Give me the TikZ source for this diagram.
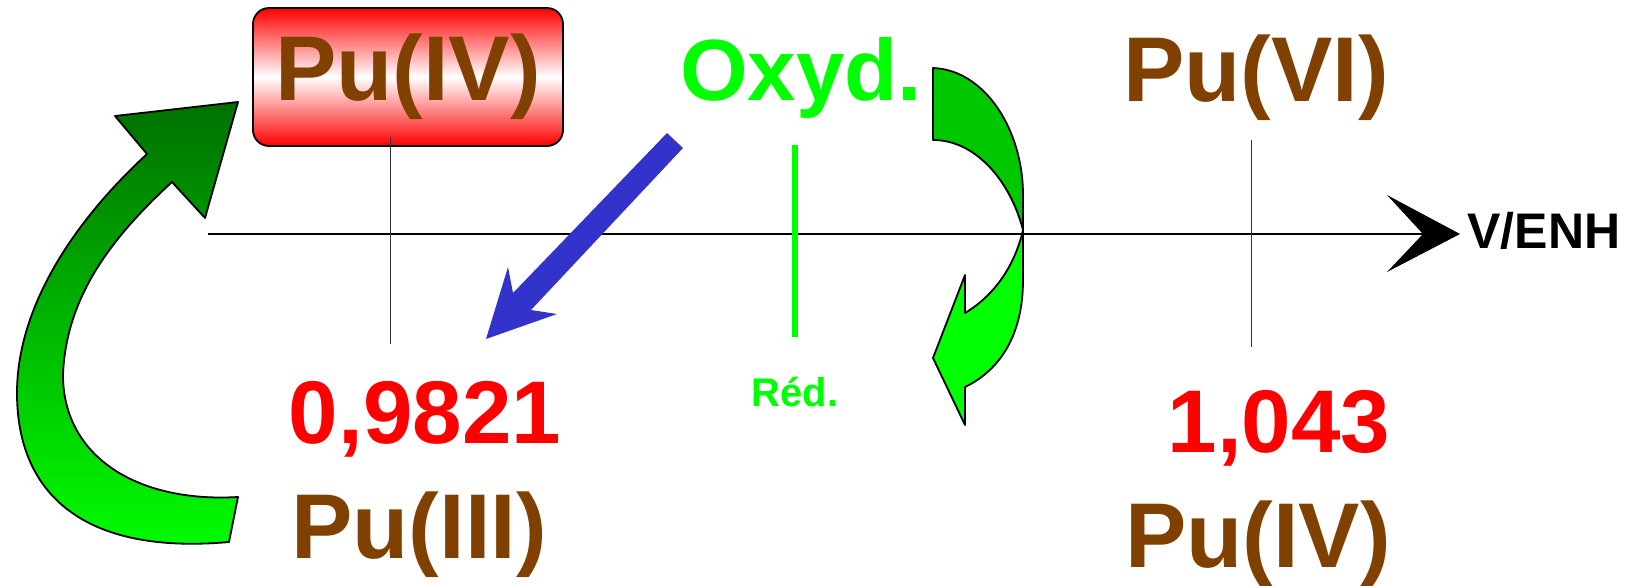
\documentclass[tikz,border=0pt]{standalone}
\usepackage{fontspec}
\setmainfont{Liberation Sans}
\definecolor{puBrown}{RGB}{128,64,0}
\definecolor{potRed}{RGB}{255,0,0}
\definecolor{redoxGreen}{RGB}{0,255,0}
\definecolor{darkArrow}{RGB}{0,112,0}
\definecolor{midArrow}{RGB}{0,200,0}
\definecolor{shiftBlue}{RGB}{51,51,204}
\tikzset{
  species/.style={font=\fontsize{92}{92}\selectfont\bfseries, text=puBrown, inner sep=0pt, anchor=base},
  potential/.style={font=\fontsize{89}{89}\selectfont\bfseries, text=potRed, inner sep=0pt, anchor=base},
  tickline/.style={line width=1pt, black!80},
  bandarrow/.style={draw=black, line width=1.8pt, line join=round},
}
\begin{document}
\begin{tikzpicture}[x=1pt, y=-1pt]
\useasboundingbox (0,0) rectangle (1628,586);

% highlighted species box
\node[draw=black, line width=1.8pt, rounded corners=16pt,
      top color=potRed, bottom color=potRed, middle color=white,
      minimum width=310pt, minimum height=138pt, inner sep=0pt] (box) at (408,77) {};

% potential axis
\coordinate (axL) at (208,234);
\coordinate (axR) at (1423,234);
\draw[line width=1.5pt] (axL) -- (axR);
\fill (1387,195) -- (1460,234) -- (1387,272) -- (axR) -- cycle;
\node[font=\fontsize{50}{50}\selectfont\bfseries, inner sep=0pt, anchor=base] (unit) at (1544,248) {V/ENH};

% ticks at the standard potentials
\draw[tickline] (390,137) -- (390,344);
\draw[tickline] (1251,140) -- (1251,347);
\draw[redoxGreen, line width=6pt] (795,145) -- (795,337);

% labels
\node[species] (pu4top) at (408,100) {Pu(IV)};
\node[font=\fontsize{87}{87}\selectfont\bfseries, text=redoxGreen, inner sep=0pt, anchor=base] (oxy) at (801,100) {Oxyd.};
\node[species] (pu6) at (1256,102) {Pu(VI)};
\node[potential] (e1) at (425,443) {0,9821};
\node[font=\fontsize{40}{40}\selectfont\bfseries, text=redoxGreen, inner sep=0pt, anchor=base] (red) at (795,406) {Réd.};
\node[potential] (e2) at (1279,452) {1,043};
\node[species] (pu3) at (419,558) {Pu(III)};
\node[species] (pu4bot) at (1258,567) {Pu(IV)};

% blue arrow
\fill[shiftBlue] (667,133) -- (683,148) -- (531,310) -- (557,314) -- (486,339)
  -- (508,267) -- (513,293) -- cycle;

% left curved arrow (Pu(III) -> Pu(IV))
\shade[bandarrow, top color=darkArrow, bottom color=redoxGreen]
  (238,102) -- (115,116) -- (147,154)
  .. controls (70,225) and (17,310) .. (17,393)
  .. controls (17,495) and (85,555) .. (229,542)
  -- (238,497)
  .. controls (135,503) and (63,455) .. (63,375)
  .. controls (66,292) and (118,232) .. (172,182)
  -- (205,218) -- cycle;

% right twisted arrow: back face
\filldraw[bandarrow, fill=midArrow]
  (933,68) .. controls (985,70) and (1023,130) .. (1023,195)
  -- (1023,230)
  .. controls (1010,180) and (975,140) .. (933,140) -- cycle;
% right twisted arrow: front face and head
\filldraw[bandarrow, fill=redoxGreen]
  (1023,230) -- (1023,280)
  .. controls (1023,335) and (1000,370) .. (965,387)
  -- (965,425) -- (933,358) -- (965,275) -- (965,313)
  .. controls (995,295) and (1015,265) .. (1023,230) -- cycle;
\end{tikzpicture}
\end{document}
